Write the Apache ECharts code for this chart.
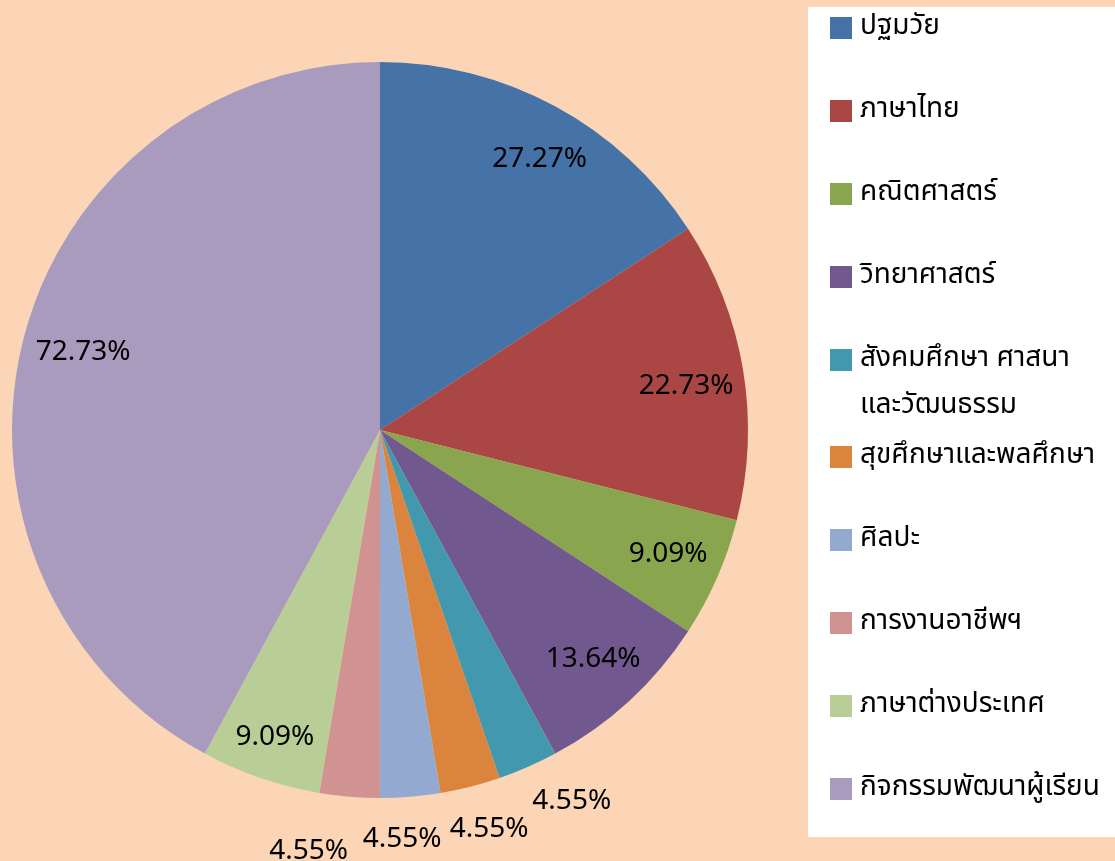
<!DOCTYPE html>
<html>
<head>
<meta charset="utf-8">
<title>pie</title>
<style>
  html, body { margin: 0; padding: 0; background: #FBD5B5; }
  #main { width: 1115px; height: 861px; }
</style>
</head>
<body>
<div id="main"></div>
<script src="https://cdn.jsdelivr.net/npm/echarts@6/dist/echarts.min.js"></script>
<script>
// 学科分类
var categories = ['ปฐมวัย', 'ภาษาไทย', 'คณิตศาสตร์', 'วิทยาศาสตร์', 'สังคมศึกษา ศาสนา และวัฒนธรรม',
  'สุขศึกษาและพลศึกษา', 'ศิลปะ', 'การงานอาชีพฯ', 'ภาษาต่างประเทศ', 'กิจกรรมพัฒนาผู้เรียน'];
// 百分比
var percents = [27.27, 22.73, 9.09, 13.64, 4.55, 4.55, 4.55, 4.55, 9.09, 72.73];
var colors = ['#4572A7', '#AA4643', '#89A54E', '#71588F', '#4198AF', '#DB843D', '#93A9CF', '#D19392', '#B9CD96', '#A99BBD'];
// small slices get their label outside
var outsideLen = {4: 36, 5: 42, 6: 41, 7: 53};
var labelShift = {0: [10, 8], 1: [-4, 10], 4: [-15, 3], 5: [-36, 4], 6: [-56, 4], 7: [8, 4], 8: [-3, 12], 9: [8, 2]};

var font = "'Noto Sans Thai', 'Noto Sans', 'DejaVu Sans', sans-serif";
var myChart = echarts.init(document.getElementById('main'));

var pieData = categories.map(function (n, i) {
  return { name: n, value: percents[i] };
});
var labelData = categories.map(function (n, i) {
  var d = { name: n, value: percents[i] };
  if (outsideLen[i]) {
    d.label = { position: 'outside' };
    d.labelLine = { show: false, length: outsideLen[i], length2: 0 };
  }
  return d;
});

var option = {
  color: colors,
  animation: false,
  graphic: [{
    type: 'rect',
    z: 0,
    shape: { x: 808, y: 7, width: 307, height: 830 },
    style: { fill: '#ffffff' }
  }],
  legend: {
    orient: 'vertical',
    left: 830,
    top: -19,
    padding: 0,
    itemGap: -11,
    itemWidth: 22,
    itemHeight: 22,
    icon: 'rect',
    selectedMode: false,
    data: categories,
    formatter: function (name) {
      var k = name.indexOf(' และ');
      if (k > 0) {
        return '{a|' + name.slice(0, k) + '}\n{b|' + name.slice(k + 1) + '}';
      }
      return name;
    },
    textStyle: {
      color: '#000',
      fontFamily: font,
      fontSize: 28,
      lineHeight: 94,
      padding: [0, 0, 0, 3],
      rich: {
        a: { fontFamily: font, fontSize: 28, lineHeight: 94, color: '#000' },
        b: { fontFamily: font, fontSize: 28, lineHeight: 0, color: '#000' }
      }
    }
  },
  series: [{
    type: 'pie',
    center: [380, 430],
    radius: [0, 368],
    startAngle: 90,
    clockwise: true,
    silent: true,
    label: { show: false },
    labelLine: { show: false },
    itemStyle: { borderWidth: 0 },
    data: pieData
  }, {
    type: 'pie',
    center: [380, 430],
    radius: [255, 368],
    startAngle: 90,
    clockwise: true,
    silent: true,
    avoidLabelOverlap: false,
    itemStyle: { color: 'transparent', borderWidth: 0 },
    label: {
      show: true,
      position: 'inside',
      color: '#000',
      fontFamily: font,
      fontSize: 28,
      formatter: function (p) {
        return p.value.toFixed(2) + '%';
      }
    },
    labelLine: { show: false },
    labelLayout: function (p) {
      var s = labelShift[p.dataIndex];
      if (s) {
        return { dx: s[0], dy: s[1] };
      }
    },
    data: labelData
  }]
};
myChart.setOption(option);
</script>
</body>
</html>
